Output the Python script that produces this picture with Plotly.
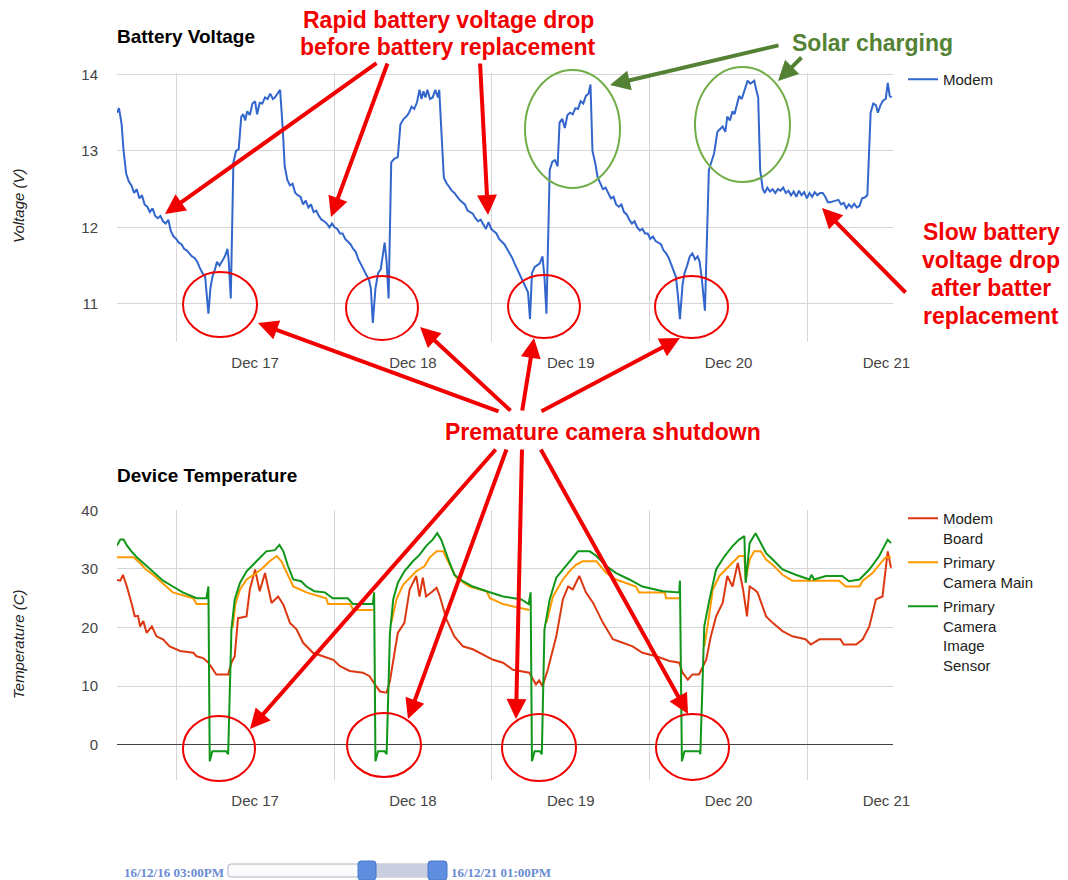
import pandas as pd
import plotly.graph_objects as go

# ---------------- data ----------------
START = "2016-12-16 15:00"
END = "2016-12-21 13:00"
DAY_LABELS = ["Dec 17", "Dec 18", "Dec 19", "Dec 20", "Dec 21"]
DAY_LABEL_TIMES = ["2016-12-17 12:00", "2016-12-18 12:00", "2016-12-19 12:00",
                   "2016-12-20 12:00", "2016-12-21 12:00"]
VOLT_TICKS = [11, 12, 13, 14]
TEMP_TICKS = [0, 10, 20, 30, 40]
RANGE_LEFT_LABEL = "16/12/16 03:00PM"
RANGE_RIGHT_LABEL = "16/12/21 01:00PM"

# (hours since START, volts)
modem_voltage = [
    (0, 13.50), (0.3, 13.56), (0.7, 13.35), (1.0, 13.00), (1.4, 12.70), (1.8, 12.60),
    (2.2, 12.55), (2.6, 12.45), (3.0, 12.50), (3.4, 12.38), (3.8, 12.42), (4.2, 12.30),
    (4.6, 12.27), (5.0, 12.20), (5.4, 12.25), (5.8, 12.15), (6.2, 12.12), (6.6, 12.15),
    (7.0, 12.08), (7.4, 12.05), (7.8, 12.10), (8.2, 11.95), (8.6, 11.88), (9.0, 11.85),
    (9.4, 11.80), (9.8, 11.78), (10.2, 11.72), (10.6, 11.70), (11.0, 11.66), (11.4, 11.62),
    (11.8, 11.60), (12.2, 11.55), (12.6, 11.47), (13.0, 11.40), (13.4, 11.36), (13.7, 11.10),
    (13.9, 10.87), (14.2, 11.20), (14.5, 11.35), (14.9, 11.45), (15.2, 11.55), (15.6, 11.50),
    (16.0, 11.57), (16.4, 11.62), (16.8, 11.72), (17.0, 11.55), (17.3, 11.07), (17.7, 12.85),
    (18.1, 13.00), (18.5, 13.02), (18.9, 13.45), (19.2, 13.48), (19.5, 13.40), (19.8, 13.52),
    (20.2, 13.47), (20.6, 13.62), (21.0, 13.65), (21.3, 13.48), (21.7, 13.63), (22.1, 13.62),
    (22.5, 13.70), (22.9, 13.68), (23.3, 13.75), (23.7, 13.68), (24.0, 13.70), (24.4, 13.75),
    (24.8, 13.80), (25.2, 13.30), (25.5, 12.80), (25.9, 12.62), (26.3, 12.55), (26.7, 12.57),
    (27.1, 12.45), (27.5, 12.42), (27.9, 12.40), (28.3, 12.30), (28.7, 12.35), (29.1, 12.26),
    (29.5, 12.30), (29.9, 12.20), (30.3, 12.22), (30.7, 12.15), (31.1, 12.10), (31.5, 12.08),
    (31.9, 12.05), (32.3, 12.00), (32.7, 12.05), (33.1, 12.00), (33.5, 11.98), (33.9, 11.92),
    (34.3, 11.92), (34.7, 11.85), (35.1, 11.82), (35.5, 11.78), (35.9, 11.72), (36.3, 11.68),
    (36.7, 11.58), (37.1, 11.52), (37.5, 11.45), (37.9, 11.38), (38.3, 11.32), (38.6, 11.20),
    (38.9, 10.75), (39.3, 11.20), (39.7, 11.40), (40.1, 11.45), (40.4, 11.65), (40.7, 11.80),
    (41.0, 11.55), (41.3, 11.07), (41.7, 12.85), (42.2, 12.90), (42.7, 12.92), (43.1, 13.35),
    (43.6, 13.42), (44.0, 13.45), (44.4, 13.50), (44.8, 13.58), (45.2, 13.55), (45.6, 13.63),
    (46.0, 13.80), (46.3, 13.68), (46.6, 13.78), (46.9, 13.70), (47.2, 13.80), (47.6, 13.68),
    (48.0, 13.70), (48.4, 13.80), (48.8, 13.70), (49.0, 13.80), (49.3, 13.30), (49.7, 12.65),
    (50.1, 12.58), (50.5, 12.53), (50.9, 12.48), (51.3, 12.45), (51.7, 12.40), (52.1, 12.36),
    (52.5, 12.33), (52.9, 12.30), (53.3, 12.22), (53.7, 12.20), (54.1, 12.18), (54.5, 12.12),
    (54.9, 12.08), (55.3, 12.10), (55.7, 12.03), (56.1, 11.98), (56.5, 12.07), (56.9, 11.98),
    (57.3, 11.95), (57.7, 11.92), (58.1, 11.85), (58.5, 11.82), (58.9, 11.78), (59.3, 11.72),
    (59.7, 11.66), (60.1, 11.60), (60.5, 11.52), (60.9, 11.45), (61.3, 11.38), (61.7, 11.30),
    (62.1, 11.22), (62.5, 11.15), (62.8, 10.80), (63.1, 11.40), (63.5, 11.48), (63.9, 11.50),
    (64.3, 11.53), (64.7, 11.62), (65.0, 11.35), (65.3, 10.87), (65.8, 12.75), (66.2, 12.86),
    (66.6, 12.88), (67.0, 12.80), (67.3, 13.37), (67.7, 13.42), (68.1, 13.30), (68.5, 13.47),
    (68.9, 13.50), (69.3, 13.48), (69.7, 13.56), (70.1, 13.55), (70.5, 13.65), (70.9, 13.62),
    (71.3, 13.72), (71.7, 13.75), (72.0, 13.87), (72.3, 13.00), (72.7, 12.85), (73.1, 12.65),
    (73.5, 12.58), (73.9, 12.50), (74.3, 12.52), (74.7, 12.45), (75.1, 12.38), (75.5, 12.40),
    (75.9, 12.30), (76.3, 12.27), (76.7, 12.30), (77.1, 12.20), (77.5, 12.17), (77.9, 12.10),
    (78.3, 12.05), (78.7, 12.08), (79.1, 12.00), (79.5, 11.96), (79.9, 11.98), (80.3, 11.92),
    (80.7, 11.92), (81.1, 11.85), (81.5, 11.88), (81.9, 11.82), (82.3, 11.80), (82.7, 11.78),
    (83.1, 11.70), (83.5, 11.66), (83.9, 11.60), (84.3, 11.50), (84.7, 11.40), (85.0, 11.35),
    (85.3, 11.10), (85.6, 10.80), (86.0, 11.25), (86.3, 11.40), (86.7, 11.50), (87.1, 11.62),
    (87.5, 11.66), (87.9, 11.58), (88.3, 11.62), (88.6, 11.55), (88.9, 11.35), (89.4, 10.91),
    (90.0, 12.75), (90.5, 12.90), (90.8, 12.97), (91.3, 13.25), (91.7, 13.28), (92.1, 13.32),
    (92.5, 13.25), (92.8, 13.45), (93.2, 13.40), (93.6, 13.52), (93.9, 13.48), (94.3, 13.60),
    (94.6, 13.72), (95.0, 13.68), (95.4, 13.80), (95.9, 13.92), (96.3, 13.88), (96.9, 13.92),
    (97.2, 13.80), (97.5, 13.70), (97.8, 12.75), (98.2, 12.50), (98.5, 12.45), (98.9, 12.52),
    (99.3, 12.47), (99.7, 12.50), (100.1, 12.45), (100.5, 12.50), (100.9, 12.48), (101.3, 12.52),
    (101.7, 12.45), (102.1, 12.48), (102.5, 12.42), (102.9, 12.47), (103.3, 12.40), (103.7, 12.48),
    (104.1, 12.42), (104.5, 12.46), (104.9, 12.38), (105.3, 12.45), (105.7, 12.40), (106.1, 12.46),
    (106.5, 12.42), (106.9, 12.45), (107.3, 12.45), (107.7, 12.40), (108.1, 12.33), (108.5, 12.33),
    (108.9, 12.34), (109.3, 12.35), (109.7, 12.36), (110.1, 12.30), (110.5, 12.32), (110.9, 12.25),
    (111.3, 12.30), (111.7, 12.26), (112.1, 12.31), (112.5, 12.26), (112.9, 12.28), (113.3, 12.38),
    (113.7, 12.39), (114.1, 12.42), (114.6, 13.50), (115.0, 13.62), (115.4, 13.60), (115.7, 13.50),
    (116.1, 13.60), (116.5, 13.66), (116.9, 13.68), (117.2, 13.89), (117.5, 13.72), (117.8, 13.70),
]

# (hours since START, deg C)
modem_board = [
    (0, 28.1), (0.5, 28), (0.9, 29), (1.5, 27), (2.2, 24.2), (2.7, 21.9), (3.2, 22), (3.5, 20.2),
    (4.0, 21.1), (4.5, 19.1), (5.3, 20.2), (6.0, 18.5), (7.0, 18), (8.0, 16.8), (9.6, 16),
    (11.6, 15.7), (12.1, 15.1), (13.1, 14.8), (13.9, 14), (14.6, 12.8), (15.1, 12), (16.9, 12),
    (17.4, 14), (17.9, 15.1), (18.4, 21.6), (19.7, 21.9), (20.2, 26.5), (21.0, 29.9), (21.7, 26.2),
    (22.5, 29.3), (23.5, 24.2), (24.5, 25.3), (25.3, 23.9), (26.3, 20.8), (27.3, 19.7), (28.3, 17.4),
    (29.8, 15.7), (31.3, 15.1), (32.9, 14.5), (33.9, 13.4), (35.4, 12.6), (37.4, 12.3), (38.4, 11.7),
    (39.4, 10), (40.0, 9.1), (41.0, 8.9), (41.5, 10.9), (42.2, 15.7), (42.7, 19.1), (43.7, 20.8),
    (44.5, 26.5), (45.5, 28.8), (46.0, 25.3), (46.5, 28.5), (47.0, 25.3), (48.0, 26.2), (48.6, 26.8),
    (49.1, 25.3), (50.1, 21.4), (51.3, 18.5), (52.6, 16.8), (54.1, 16.3), (55.6, 15.4), (57.2, 14.5),
    (58.7, 14), (60.2, 12.8), (62.7, 12.3), (63.7, 10.3), (64.2, 11), (64.7, 10), (65.5, 12.8),
    (66.8, 18.5), (67.8, 24.8), (68.6, 27), (69.3, 26.5), (69.8, 27.6), (70.3, 28.8), (71.3, 26),
    (72.4, 24.2), (73.9, 20.8), (75.4, 18), (76.9, 17.4), (78.4, 16.8), (79.9, 15.7), (82.0, 15.1),
    (84.0, 14.3), (85.5, 14), (86.0, 12.3), (86.8, 11.1), (87.5, 12), (88.5, 12), (89.6, 14.5),
    (90.3, 18.5), (91.1, 21.9), (92.1, 24.2), (92.8, 28.8), (93.6, 27), (94.4, 31), (95.2, 26.5),
    (95.8, 21.9), (96.2, 27), (96.9, 26.5), (97.4, 26), (98.7, 21.9), (99.7, 20.8), (101.2, 19.4),
    (102.7, 18.5), (104.7, 18), (105.5, 17.1), (106.8, 18), (110.0, 18), (110.5, 17.1), (112.4, 17.1),
    (113.4, 18), (114.4, 20.2), (115.4, 24.8), (116.4, 25.3), (117.2, 33), (117.7, 30.2),
]

camera_main = [
    (0, 32), (2.5, 32), (3.5, 31), (4.3, 30), (5.5, 29), (6.5, 28), (7.5, 27), (8.5, 26),
    (11.6, 25), (12.1, 24), (13.9, 24), (14.0, None), (17.6, 20), (18.0, 24), (18.7, 26.5),
    (19.7, 28.2), (21.2, 29.3), (22.2, 30.2), (23.2, 31.3), (24.3, 32.2), (25.0, 31.3), (25.8, 29.3),
    (26.8, 27), (28.8, 26), (31.8, 25), (32.1, 24), (35.5, 24), (35.9, 23), (38.9, 23), (39.0, None),
    (41.7, 20.8), (42.5, 24.8), (43.5, 27.3), (44.5, 28.5), (45.5, 29.6), (46.8, 30.5), (47.5, 31.9),
    (48.6, 33), (49.6, 33), (50.6, 30.7), (51.6, 28.5), (53.6, 27), (56.2, 26.2), (56.7, 25),
    (58.7, 24), (62.7, 23), (62.8, None), (65.3, 20.8), (66.3, 25.3), (67.8, 28.2), (68.8, 29.6),
    (69.8, 30.7), (70.8, 31.3), (72.9, 31.3), (74.4, 29.3), (75.9, 28.2), (78.9, 27), (79.4, 26),
    (83.3, 26), (83.5, 25), (85.5, 25), (85.6, None), (89.3, 16.8), (89.8, 20.2), (90.6, 26.5),
    (91.6, 28.8), (93.1, 30.5), (94.6, 32.2), (95.4, 32.2), (95.6, 28.2), (96.2, 31.6), (96.9, 33),
    (97.9, 33), (98.7, 31.6), (99.7, 30.7), (101.2, 29), (102.7, 28), (109.8, 28), (110.8, 27),
    (112.9, 27), (113.4, 28), (114.9, 29.3), (115.9, 30.7), (116.9, 32), (117.7, 32),
]

image_sensor = [
    (0, 34), (0.5, 35), (1.0, 35), (1.5, 34), (2.2, 33), (3.0, 32), (4.0, 31), (5.0, 30), (6.0, 29),
    (7.0, 28), (8.5, 27), (10.0, 26), (12.1, 25), (13.6, 25), (13.9, 27), (14.1, -2.8), (14.5, -1.1),
    (16.6, -1.1), (16.9, -1.6), (17.4, 19.7), (17.9, 24.8), (18.7, 27.6), (19.7, 29.6), (20.7, 30.7),
    (21.7, 31.9), (22.7, 33), (24.0, 33.2), (24.7, 34.1), (25.3, 33), (26.0, 30.5), (26.8, 28.2),
    (28.0, 27.9), (28.8, 27), (30.0, 26.2), (31.6, 26), (32.8, 25), (35.1, 25), (35.9, 24),
    (38.9, 24), (39.1, 26), (39.3, -2.8), (39.7, -1.1), (40.7, -1.1), (41.0, -1.6), (41.5, 19),
    (42.0, 24.8), (42.7, 27.6), (43.7, 29.6), (45.0, 31.3), (46.0, 32.4), (47.0, 33.9), (48.0, 35),
    (48.7, 36.1), (49.3, 35), (50.3, 31.9), (51.3, 29), (52.6, 27.9), (54.1, 27), (56.2, 26.2),
    (58.7, 25.3), (61.5, 24.8), (62.6, 24), (62.9, 26), (63.1, -2.8), (63.5, -1.1), (64.3, -1.1),
    (64.6, -1.6), (65.0, 19.7), (65.8, 24.8), (66.8, 28.5), (67.8, 29.9), (68.8, 31.3), (70.1, 33),
    (71.9, 33), (72.9, 32.2), (74.4, 30.5), (75.9, 29.3), (77.9, 28.2), (79.9, 27), (83.0, 26.2),
    (85.5, 26), (85.6, 28), (85.9, -2.8), (86.3, -1.1), (88.6, -1.1), (88.7, -1.6), (89.3, 20.2),
    (90.1, 24.8), (91.1, 29.9), (92.4, 32.2), (93.6, 33.9), (94.6, 35), (95.4, 35.6), (95.6, 27.6),
    (96.2, 34.4), (97.1, 36.1), (97.9, 34.4), (98.7, 32.7), (99.7, 31.6), (101.2, 29.9), (103.2, 29),
    (105.3, 28.2), (105.6, 29), (106.0, 28.2), (107.8, 28.8), (110.3, 28.8), (111.3, 27.9),
    (112.9, 28.2), (114.4, 29.9), (115.9, 32.2), (117.2, 35), (117.7, 34.4),
]

# ---------------- helpers ----------------
W, H = 1068, 880
T0 = pd.Timestamp(START)


def xs(pts):
    return [T0 + pd.Timedelta(hours=h) for h, _ in pts]


def ys(pts):
    return [v for _, v in pts]


def PX(x):
    return x / W


def PY(y):
    return 1 - y / H


FONT = "Liberation Sans, Arial, sans-serif"
GRID = "#d6d6d6"
RED = "#f20000"
DKGREEN = "#548235"
LTGREEN = "#70ad47"

fig = go.Figure()
fig.add_trace(go.Scatter(x=xs(modem_voltage), y=ys(modem_voltage), mode="lines",
                         name="Modem", line=dict(color="#3366cc", width=2),
                         xaxis="x", yaxis="y", legend="legend"))
fig.add_trace(go.Scatter(x=xs(modem_board), y=ys(modem_board), mode="lines",
                         name="Modem<br>Board", line=dict(color="#dc3912", width=2),
                         xaxis="x2", yaxis="y2", legend="legend2", legendgroup="g1"))
fig.add_trace(go.Scatter(x=xs(camera_main), y=ys(camera_main), mode="lines",
                         name="Primary<br>Camera Main", line=dict(color="#ff9900", width=2),
                         xaxis="x2", yaxis="y2", legend="legend2", legendgroup="g2"))
fig.add_trace(go.Scatter(x=xs(image_sensor), y=ys(image_sensor), mode="lines",
                         name="Primary<br>Camera<br>Image<br>Sensor", line=dict(color="#109618", width=2),
                         xaxis="x2", yaxis="y2", legend="legend2", legendgroup="g3"))

xcommon = dict(
    type="date", range=[START, END], tickmode="array", tickvals=DAY_LABEL_TIMES,
    ticktext=DAY_LABELS, showgrid=False, zeroline=False, showline=False, automargin=False,
    ticks="outside", ticklen=7, tickcolor="rgba(0,0,0,0)",
    tickfont=dict(family=FONT, size=15, color="#444"),
    minor=dict(dtick=86400000, tick0="2016-12-17 00:00", showgrid=True,
               gridcolor=GRID, gridwidth=1.3),
)
ycommon = dict(showgrid=True, gridcolor=GRID, gridwidth=1.3, showline=False, automargin=False,
               ticks="outside", ticklen=15, tickcolor="rgba(0,0,0,0)",
               tickfont=dict(family=FONT, size=15, color="#444"))

fig.update_layout(
    template="none",
    width=W, height=H, margin=dict(l=0, r=0, t=0, b=0, pad=0), autosize=False,
    paper_bgcolor="white", plot_bgcolor="white",
    font=dict(family=FONT, color="#222"),
    xaxis=dict(domain=[PX(117), PX(893)], anchor="y", **xcommon),
    yaxis=dict(domain=[PY(342), PY(73)], anchor="x", range=[10.5, 14.02],
               tickvals=VOLT_TICKS, zeroline=False, **ycommon),
    xaxis2=dict(domain=[PX(117), PX(893)], anchor="y2", **xcommon),
    yaxis2=dict(domain=[PY(780), PY(510)], anchor="x2", range=[-6, 40.05],
                tickvals=TEMP_TICKS, zeroline=True, zerolinecolor="#444",
                zerolinewidth=1.3, **ycommon),
    legend=dict(x=PX(903), y=PY(63), xanchor="left", yanchor="top",
                font=dict(family=FONT, size=15, color="#222"), itemwidth=30,
                bgcolor="rgba(0,0,0,0)", borderwidth=0, valign="top"),
    legend2=dict(x=PX(903), y=PY(502), xanchor="left", yanchor="top",
                 font=dict(family=FONT, size=15, color="#222"), itemwidth=30,
                 bgcolor="rgba(0,0,0,0)", borderwidth=0, valign="top",
                 traceorder="grouped", tracegroupgap=2),
    showlegend=True,
)

ann = []
# chart titles
ann.append(dict(text="<b>Battery Voltage</b>", x=PX(115), y=PY(37), xref="paper", yref="paper",
                xanchor="left", yanchor="middle", showarrow=False,
                font=dict(family=FONT, size=19, color="#000")))
ann.append(dict(text="<b>Device Temperature</b>", x=PX(115), y=PY(475), xref="paper", yref="paper",
                xanchor="left", yanchor="middle", showarrow=False,
                font=dict(family=FONT, size=19, color="#000")))
# axis titles
ann.append(dict(text="<i>Voltage (V)</i>", x=PX(18), y=PY(206), xref="paper", yref="paper",
                xanchor="center", yanchor="middle", textangle=-90, showarrow=False,
                font=dict(family=FONT, size=15, color="#222")))
ann.append(dict(text="<i>Temperature (C)</i>", x=PX(18), y=PY(645), xref="paper", yref="paper",
                xanchor="center", yanchor="middle", textangle=-90, showarrow=False,
                font=dict(family=FONT, size=15, color="#222")))


# callout texts (one annotation per line)
def label(text, x, y, color):
    ann.append(dict(text="<b>" + text + "</b>", x=PX(x), y=PY(y), xref="paper", yref="paper",
                    showarrow=False, align="center", xanchor="center", yanchor="middle",
                    font=dict(family=FONT, size=23, color=color)))


label("Rapid battery voltage drop", 448, 20, RED)
label("before battery replacement", 448, 47, RED)
label("Solar charging", 872, 43, DKGREEN)
label("Slow battery", 991, 232, RED)
label("voltage drop", 991, 260, RED)
label("after batter", 991, 288, RED)
label("replacement", 991, 316, RED)
label("Premature camera shutdown", 603, 432, RED)


def arrow(tx, ty, hx, hy, color):
    ann.append(dict(text="", x=PX(hx), y=PY(hy), xref="paper", yref="paper",
                    ax=tx - hx, ay=ty - hy, axref="pixel", ayref="pixel",
                    showarrow=True, arrowhead=2, arrowsize=1, arrowwidth=4,
                    arrowcolor=color, standoff=0))


for a in [(378, 62, 165, 214), (388, 62, 331, 217), (480, 62, 488, 215),
          (907, 294, 822, 208),
          (500, 412, 258, 323), (512, 412, 420, 327), (522, 412, 534, 338), (540, 412, 680, 338),
          (497, 448, 250, 729), (507, 448, 408, 719), (522, 448, 516, 719), (540, 448, 688, 714)]:
    arrow(*a, RED)
for a in [(780, 45, 610, 85), (803, 56, 778, 81)]:
    arrow(*a, DKGREEN)

# range control labels
SERIF = "Liberation Serif, Times New Roman, serif"
ann.append(dict(text="<b>" + RANGE_LEFT_LABEL + "</b>", x=PX(226), y=PY(872), xref="paper",
                yref="paper", xanchor="right", yanchor="middle", showarrow=False,
                font=dict(family=SERIF, size=13, color="#6a8cd4")))
ann.append(dict(text="<b>" + RANGE_RIGHT_LABEL + "</b>", x=PX(449), y=PY(872), xref="paper",
                yref="paper", xanchor="left", yanchor="middle", showarrow=False,
                font=dict(family=SERIF, size=13, color="#6a8cd4")))

shapes = []


def ellipse(x0, y0, x1, y1, color):
    shapes.append(dict(type="circle", xref="paper", yref="paper", x0=PX(x0), x1=PX(x1),
                       y0=PY(y1), y1=PY(y0), line=dict(color=color, width=2)))


for e in [(183, 272, 257, 337), (346, 276, 418, 340), (508, 275, 580, 338), (655, 276, 728, 338),
          (183, 716, 255, 781), (347, 713, 421, 777), (502, 714, 576, 781), (656, 714, 729, 780)]:
    ellipse(*e, RED)
for e in [(525, 70, 620, 188), (695, 67, 790, 182)]:
    ellipse(*e, LTGREEN)


def rrect(x0, y0, x1, y1, r, fill, line):
    p = lambda x, y: f"{PX(x)},{PY(y)}"
    path = (f"M{p(x0 + r, y0)} L{p(x1 - r, y0)} Q{p(x1, y0)} {p(x1, y0 + r)} "
            f"L{p(x1, y1 - r)} Q{p(x1, y1)} {p(x1 - r, y1)} L{p(x0 + r, y1)} "
            f"Q{p(x0, y1)} {p(x0, y1 - r)} L{p(x0, y0 + r)} Q{p(x0, y0)} {p(x0 + r, y0)} Z")
    shapes.append(dict(type="path", xref="paper", yref="paper", path=path, fillcolor=fill,
                       line=dict(color=line, width=1)))


rrect(228, 864, 445, 877, 3, "#fbfbfb", "#a9b3c6")
shapes.append(dict(type="rect", xref="paper", yref="paper", x0=PX(376), x1=PX(429),
                   y0=PY(877), y1=PY(864), fillcolor="#c9cfdf", line=dict(width=0)))
rrect(358, 861, 376, 880, 3, "#5f8ee0", "#4a78c8")
rrect(428, 861, 447, 880, 3, "#5f8ee0", "#4a78c8")

fig.update_layout(annotations=ann, shapes=shapes)

POST = ("document.body.style.margin='0';document.body.style.padding='0';"
        "document.body.style.overflow='hidden';"
        "document.documentElement.style.overflow='hidden';")
fig.write_html("out.html", config={"responsive": False, "displayModeBar": False},
               post_script=POST)
